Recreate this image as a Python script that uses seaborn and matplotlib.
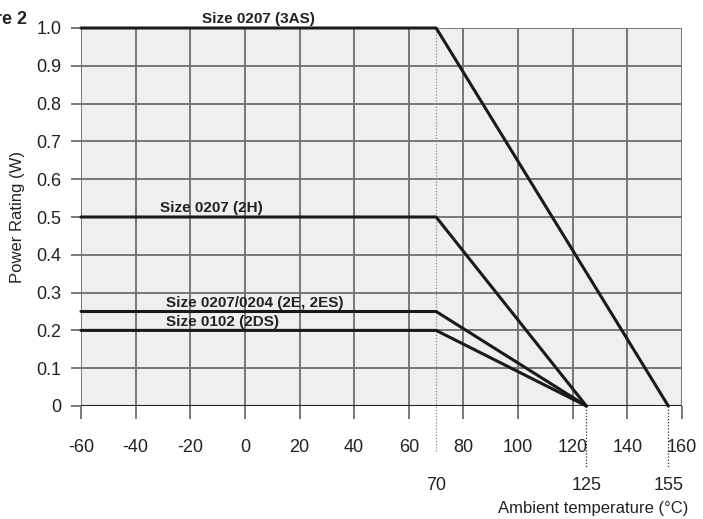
import pandas as pd
import matplotlib
matplotlib.use('Agg')
import matplotlib.pyplot as plt
import seaborn as sns

# derating curves
temp_3as = [-60, 70, 155]
power_3as = [1.0, 1.0, 0.0]
temp_2h = [-60, 70, 125]
power_2h = [0.5, 0.5, 0.0]
temp_2e = [-60, 70, 125]
power_2e = [0.25, 0.25, 0.0]
temp_2ds = [-60, 70, 125]
power_2ds = [0.2, 0.2, 0.0]

labels = ['Size 0207 (3AS)', 'Size 0207 (2H)', 'Size 0207/0204 (2E, 2ES)', 'Size 0102 (2DS)']
x_ticks = [-60, -40, -20, 0, 20, 40, 60, 80, 100, 120, 140, 160]
y_ticks = [0, 0.1, 0.2, 0.3, 0.4, 0.5, 0.6, 0.7, 0.8, 0.9, 1.0]
y_ticklabels = ['0', '0.1', '0.2', '0.3', '0.4', '0.5', '0.6', '0.7', '0.8', '0.9', '1.0']
marked_temps = [70, 125, 155]

frames = []
for lab, t, p in zip(labels, [temp_3as, temp_2h, temp_2e, temp_2ds],
                     [power_3as, power_2h, power_2e, power_2ds]):
    frames.append(pd.DataFrame({'temp': t, 'power': p, 'size': lab}))
df = pd.concat(frames, ignore_index=True)

sns.set_style('white')
plt.rcParams['font.family'] = ['Liberation Sans Narrow', 'Liberation Sans', 'DejaVu Sans']

fig = plt.figure(figsize=(7.03, 5.19), dpi=100)
ax = fig.add_axes([81 / 703, 113 / 519, 601 / 703, 378 / 519])
ax.set_facecolor('#eeeff1')

grid_c = '#6e6e6e'
for xv in x_ticks:
    ax.axvline(xv, color=grid_c, lw=1.3, zorder=1)
for yv in y_ticks:
    ax.axhline(yv, color=grid_c, lw=1.3, zorder=1)

sns.lineplot(data=df, x='temp', y='power', hue='size', units='size', estimator=None,
             sort=False, palette=['#1a1a1a'] * 4, linewidth=2.2, legend=False,
             ax=ax, zorder=3, clip_on=False)
ax.axhline(0, color='#222222', lw=1.5, zorder=2)

ax.set_xlim(-60, 160)
ax.set_ylim(0, 1.0)
for s in ax.spines.values():
    s.set_visible(False)

ax.set_xticks(x_ticks)
ax.set_xticklabels([str(v) for v in x_ticks])
ax.set_yticks(y_ticks)
ax.set_yticklabels(y_ticklabels)
ax.tick_params(axis='x', length=9, width=1.3, color=grid_c, pad=15, labelsize=13,
               labelcolor='#222222', direction='out', bottom=True)
ax.tick_params(axis='y', length=7, width=1.3, color=grid_c, pad=7, labelsize=13,
               labelcolor='#222222', direction='out', left=True)

# dotted guides at the corner temperatures
ax.plot([70, 70], [1.0, -0.125], ls=(0, (1, 1.5)), color='#888888', lw=0.9,
        clip_on=False, zorder=2)
for t in marked_temps[1:]:
    ax.plot([t, t], [0, -0.165], ls=(0, (1, 1.5)), color='#333333', lw=0.9,
            clip_on=False, zorder=2)
for t in marked_temps:
    ax.text(t, -0.21, str(t), ha='center', va='center', fontsize=13, color='#222222')

# curve labels
lab_font = dict(fontsize=11, fontweight='bold', color='#222222', va='bottom')
ax.text(5, 1.005, labels[0], ha='center', **lab_font)
ax.text(-31, 0.505, labels[1], ha='left', **lab_font)
ax.text(-29, 0.253, labels[2], ha='left', **lab_font)
ax.text(-29, 0.203, labels[3], ha='left', **lab_font)

ax.set_ylabel('Power Rating (W)', fontsize=12, color='#222222', labelpad=8)
ax.set_xlabel('')
fig.text(688 / 703, 1 - 508 / 519, 'Ambient temperature (°C)', ha='right', va='center',
         fontsize=12, color='#222222')
# figure caption, cut off at the left edge as in the source scan
fig.text(27 / 703, 1 - 20 / 519, 'Figure 2', ha='right', va='center', fontsize=13,
         fontweight='bold', color='#222222')

fig.savefig('out.png', dpi=100)
